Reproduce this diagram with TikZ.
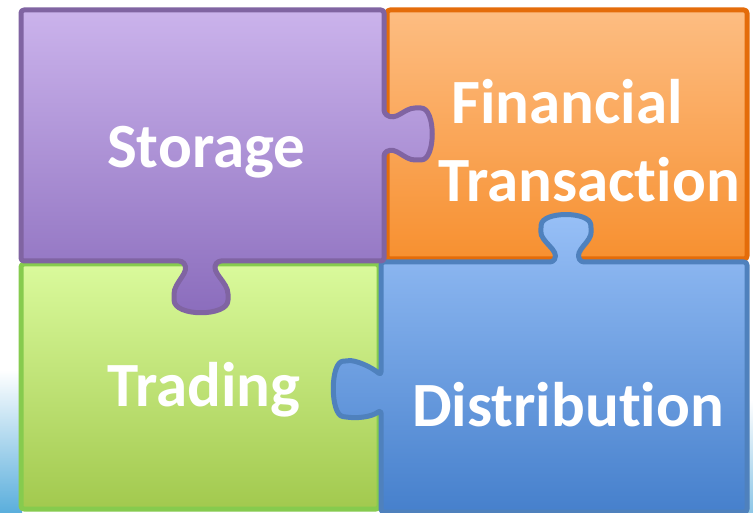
\documentclass[tikz,border=0pt]{standalone}
\usepackage{fontspec}
\setmainfont{Carlito}[Ligatures=NoCommon]
\usetikzlibrary{shadows}

\definecolor{purpleline}{HTML}{8064A2}
\definecolor{purpletop}{HTML}{CBB3EC}
\definecolor{purplebot}{HTML}{8A6CBC}
\definecolor{orangeline}{HTML}{E46C0A}
\definecolor{orangetop}{HTML}{FDBD82}
\definecolor{orangebot}{HTML}{F79030}
\definecolor{greenline}{HTML}{86CB4E}
\definecolor{greentop}{HTML}{DAFA9C}
\definecolor{greenbot}{HTML}{A2C94E}
\definecolor{blueline}{HTML}{4F81BD}
\definecolor{bluetop}{HTML}{98C0F7}
\definecolor{bluebot}{HTML}{4680CC}
\definecolor{swoosh}{HTML}{5AAEDC}

\begin{document}
\begin{tikzpicture}[x=1pt, y=-1pt,
                    piece/.style={line width=5pt, rounded corners=3pt, line join=round},
                    pshadow/.style={drop shadow={shadow xshift=2pt, shadow yshift=-2pt, opacity=.35}},
                    label/.style={text=white, font=\fontsize{63}{65}\selectfont\bfseries, inner sep=0pt}]
	\useasboundingbox (0,0) rectangle (753,513);
	
	% background
	\fill[top color=white, bottom color=swoosh] (0,370) rectangle (22,513);
	\fill[top color=white, bottom color=swoosh!70] (742,400) rectangle (753,513);
	
	% green piece
	\path[piece, draw=greenline, top color=greentop, bottom color=greenbot, pshadow]
		(21,264) -- (379,264) -- (379,509) -- (21,509) -- cycle;
	% orange piece
	\path[piece, draw=orangeline, top color=orangetop, bottom color=orangebot, pshadow]
		(387,10) -- (747,10) -- (747,259) -- (387,259) -- cycle;
	% blue piece
	\path[piece, draw=blueline, top color=bluetop, bottom color=bluebot, pshadow]
		(381,262) -- (553,262)
		.. controls (560,250) and (540,242) .. (541,228)
		.. controls (542,211) and (590,211) .. (591,228)
		.. controls (592,242) and (574,250) .. (581,262)
		-- (747,262) -- (747,512) -- (381,512) -- (381,410)
		.. controls (370,418) and (355,418) .. (346,417)
		.. controls (330,415) and (330,362) .. (346,361)
		.. controls (355,360) and (370,366) .. (381,375)
		-- cycle;
	% purple piece
	\path[piece, draw=purpleline, top color=purpletop, bottom color=purplebot, pshadow]
		(21,10) -- (384,10) -- (384,113)
		.. controls (396,122) and (404,108) .. (418,108)
		.. controls (436,108) and (436,160) .. (418,160)
		.. controls (404,160) and (396,146) .. (384,153)
		-- (384,261) -- (218,261)
		.. controls (210,272) and (228,282) .. (228,297)
		.. controls (228,317) and (174,317) .. (174,297)
		.. controls (174,282) and (191,272) .. (182,261)
		-- (21,261) -- cycle;
	
	% texts
	\node[label] (storage) at (206,152) {Storage};
	\node[label] (financial) at (567,102) {Financial};
	\node[label] (transaction) at (589,180) {Transaction};
	\node[label] (trading) at (204,390) {Trading};
	\node[label] (distribution) at (568,405) {Distribution};
	
\end{tikzpicture}
\end{document}
